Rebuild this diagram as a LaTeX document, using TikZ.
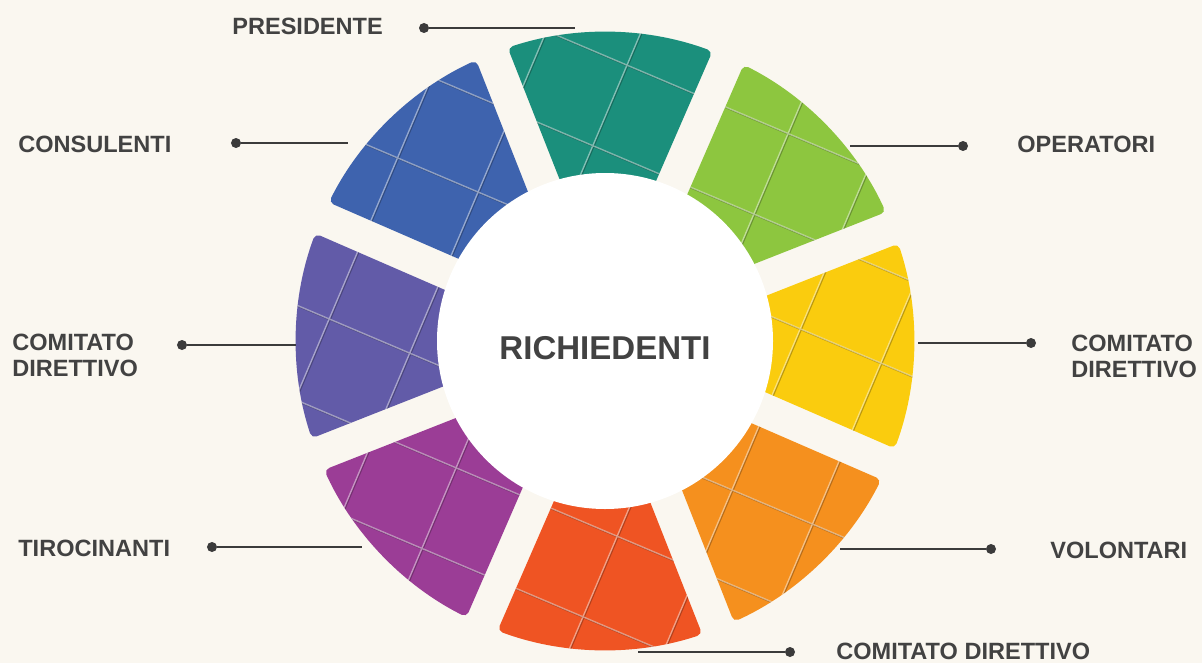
\documentclass[tikz,border=0pt]{standalone}
\usepackage{fontspec}
\setmainfont{Liberation Sans}
\definecolor{bgcream}{HTML}{FAF7F0}
\definecolor{txtgrey}{HTML}{424242}
\definecolor{wiregrey}{HTML}{3B3B3B}
\definecolor{segteal}{HTML}{1B8F7C}
\definecolor{seggreen}{HTML}{8DC63F}
\definecolor{segyellow}{HTML}{FACC0E}
\definecolor{segorange}{HTML}{F5901E}
\definecolor{segred}{HTML}{EF5423}
\definecolor{segmagenta}{HTML}{9B3D96}
\definecolor{segviolet}{HTML}{625BA8}
\definecolor{segblue}{HTML}{3E63AE}
\tikzset{
  role/.style={font=\fontsize{13.4}{14.8}\selectfont\bfseries, text=txtgrey, inner sep=0pt, anchor=west, align=left},
  pindot/.style={circle, fill=wiregrey, inner sep=0pt, minimum size=0.2cm},
  wire/.style={wiregrey, line width=1.1pt},
  tileshade/.style={black, opacity=0.25, line width=0.8pt},
  tilelight/.style={white, opacity=0.45, line width=0.8pt}
}
\begin{document}
\begin{tikzpicture}[x=0.02cm,y=0.02cm]
\fill[bgcream] (-605,-322) rectangle (597,341);
\useasboundingbox (-605,-322) rectangle (597,341);
% ring of tiles
\foreach \ang/\col in {90/segteal,45/seggreen,0/segyellow,-45/segorange,-90/segred,-135/segmagenta,180/segviolet,135/segblue}{
  \begin{scope}
    \clip[rotate=-1, rounded corners=3pt] (\ang-22.5+6.97:140) -- (\ang-22.5+3.15:309)
      arc[start angle=\ang-22.5+3.15, end angle=\ang+22.5-3.15, radius=309]
      -- (\ang+22.5-6.97:140) -- cycle;
    \fill[\col] (-400,-400) rectangle (400,400);
    \draw[tileshade, shift={(0.9,-0.9)}, rotate=-23] (-437.5,-437.5) grid[step=87.5] (437.5,437.5);
    \draw[tilelight, rotate=-23] (-437.5,-437.5) grid[step=87.5] (437.5,437.5);
  \end{scope}
}
\fill[white] (0,0) circle (168);
\node[font=\fontsize{18.8}{20}\selectfont\bfseries, text=txtgrey] (hub) at (0,-7) {RICHIEDENTI};
% labels and pins
\node[role] (president) at (-373,315) {PRESIDENTE};
\node[pindot] (presdot) at (-181,313) {};
\coordinate (presend) at (-30,313);
\draw[wire] (presdot) -- (presend);
\node[role] (consult) at (-587,197) {CONSULENTI};
\node[pindot] (consdot) at (-369,198) {};
\coordinate (consend) at (-257,198);
\draw[wire] (consdot) -- (consend);
\node[role] (operat) at (412,197) {OPERATORI};
\node[pindot] (operdot) at (358,195) {};
\coordinate (operend) at (245,195);
\draw[wire] (operend) -- (operdot);
\node[role] (comright) at (466,-15) {COMITATO\\DIRETTIVO};
\node[pindot] (comrdot) at (426,-2) {};
\coordinate (comrend) at (313,-2);
\draw[wire] (comrend) -- (comrdot);
\node[role] (comleft) at (-593,-14) {COMITATO\\DIRETTIVO};
\node[pindot] (comldot) at (-423,-4) {};
\coordinate (comlend) at (-309,-4);
\draw[wire] (comldot) -- (comlend);
\node[role] (trainee) at (-587,-207) {TIROCINANTI};
\node[pindot] (traidot) at (-393,-206) {};
\coordinate (traiend) at (-243,-206);
\draw[wire] (traidot) -- (traiend);
\node[role] (volunt) at (445,-209) {VOLONTARI};
\node[pindot] (voludot) at (386,-208) {};
\coordinate (voluend) at (235,-208);
\draw[wire] (voluend) -- (voludot);
\node[role] (combottom) at (231,-310) {COMITATO DIRETTIVO};
\node[pindot] (combdot) at (185,-311) {};
\coordinate (combend) at (33,-311);
\draw[wire] (combend) -- (combdot);
\end{tikzpicture}
\end{document}
